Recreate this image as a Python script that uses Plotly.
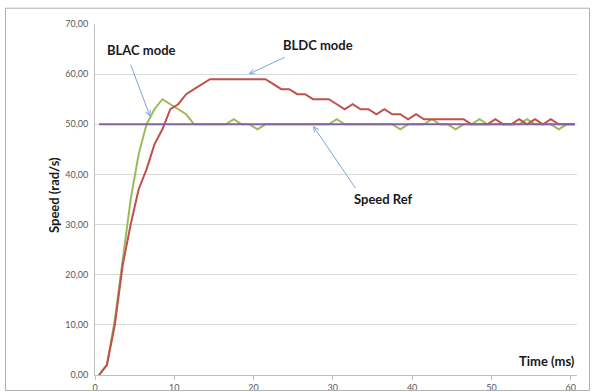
import plotly.graph_objects as go

# Time axis (ms) - sample instants
time_ms = [0.5, 1.5, 2.5, 3.5, 4.5, 5.5, 6.5, 7.5, 8.5, 9.5,
           10.5, 11.5, 12.5, 13.5, 14.5, 15.5, 16.5, 17.5, 18.5, 19.5,
           20.5, 21.5, 22.5, 23.5, 24.5, 25.5, 26.5, 27.5, 28.5, 29.5,
           30.5, 31.5, 32.5, 33.5, 34.5, 35.5, 36.5, 37.5, 38.5, 39.5,
           40.5, 41.5, 42.5, 43.5, 44.5, 45.5, 46.5, 47.5, 48.5, 49.5,
           50.5, 51.5, 52.5, 53.5, 54.5, 55.5, 56.5, 57.5, 58.5, 59.5,
           60.5]

blac_speed = [0, 2, 11, 23, 35, 44, 50, 53, 55, 54,
              53, 52, 50, 50, 50, 50, 50, 51, 50, 50,
              49, 50, 50, 50, 50, 50, 50, 50, 50, 50,
              51, 50, 50, 50, 50, 50, 50, 50, 49, 50,
              50, 50, 51, 50, 50, 49, 50, 50, 51, 50,
              50, 50, 50, 50, 51, 50, 50, 50, 49, 50,
              50]

bldc_speed = [0, 2, 10, 22, 30, 37, 41, 46, 49, 53,
              54, 56, 57, 58, 59, 59, 59, 59, 59, 59,
              59, 59, 58, 57, 57, 56, 56, 55, 55, 55,
              54, 53, 54, 53, 53, 52, 53, 52, 52, 51,
              52, 51, 51, 51, 51, 51, 51, 50, 50, 50,
              51, 50, 50, 51, 50, 51, 50, 51, 50, 50,
              50]

speed_ref = [50.0] * 61

y_tick_vals = [0, 10, 20, 30, 40, 50, 60, 70]
y_tick_text = ["0,00", "10,00", "20,00", "30,00", "40,00", "50,00", "60,00", "70,00"]
x_tick_vals = [0, 10, 20, 30, 40, 50, 60]
x_tick_text = ["0", "10", "20", "30", "40", "50", "60"]

FONT = "Lato, 'Open Sans', sans-serif"

fig = go.Figure()
fig.add_trace(go.Scatter(x=time_ms, y=blac_speed, mode="lines", name="BLAC",
                         line=dict(color="#9BBB59", width=2)))
fig.add_trace(go.Scatter(x=time_ms, y=bldc_speed, mode="lines", name="BLDC",
                         line=dict(color="#C0504D", width=2)))
fig.add_trace(go.Scatter(x=time_ms, y=speed_ref, mode="lines", name="Speed Ref",
                         line=dict(color="#8064A2", width=2)))

arrow_col = "#7EA6D8"
label_font = dict(family=FONT, size=13, color="#1a1a1a")

# Text labels
for txt, x, y in [("<b>BLAC mode</b>", 5.9, 64.8),
                  ("<b>BLDC mode</b>", 28.1, 65.8),
                  ("<b>Speed Ref</b>", 36.4, 35.1)]:
    fig.add_annotation(x=x, y=y, xref="x", yref="y", text=txt, showarrow=False,
                       font=label_font, xanchor="center", yanchor="middle")

# Arrows
for hx, hy, tx, ty in [(6.96, 51.5, 4.43, 62.2),
                       (19.37, 60.0, 24.13, 63.5),
                       (27.5, 49.7, 32.97, 37.0)]:
    fig.add_annotation(x=hx, y=hy, xref="x", yref="y", ax=tx, ay=ty,
                       axref="x", ayref="y", text="", showarrow=True,
                       arrowhead=5, arrowsize=1, arrowwidth=1,
                       arrowcolor=arrow_col, standoff=0, startstandoff=0)

# Axis titles
fig.add_annotation(x=-0.085, y=0.513, xref="paper", yref="paper",
                   text="<b>Speed (rad/s)</b>", textangle=-90, showarrow=False,
                   font=label_font, xanchor="center", yanchor="middle")
fig.add_annotation(x=1.0, y=0.04, xref="paper", yref="paper",
                   text="<b>Time (ms)</b>", showarrow=False,
                   font=label_font, xanchor="right", yanchor="middle")

# Chart border
fig.add_shape(type="rect", xref="paper", yref="paper",
              x0=-0.1857, x1=1.026, y0=-0.044, y1=1.045,
              line=dict(color="#B0B0B0", width=1), fillcolor="rgba(0,0,0,0)")

fig.update_layout(
    width=592, height=392,
    margin=dict(l=95, r=15, t=24, b=17, autoexpand=False),
    paper_bgcolor="white", plot_bgcolor="white",
    showlegend=False,
    font=dict(family=FONT, size=9, color="#595959"),
    xaxis=dict(range=[0, 60.8], tickvals=x_tick_vals, ticktext=x_tick_text,
               showgrid=False, zeroline=False, showline=True, linecolor="#BFBFBF",
               linewidth=1, ticks="outside", ticklen=4, tickcolor="#BFBFBF",
               automargin=False,
               tickfont=dict(family=FONT, size=9, color="#595959")),
    yaxis=dict(range=[0, 70], tickvals=y_tick_vals, ticktext=y_tick_text,
               showgrid=True, gridcolor="#D9D9D9", gridwidth=1, zeroline=False,
               showline=True, linecolor="#BFBFBF", linewidth=1, ticks="",
               ticklabelstandoff=4, automargin=False,
               tickfont=dict(family=FONT, size=9, color="#595959")),
)

fig.write_html("out.html")
